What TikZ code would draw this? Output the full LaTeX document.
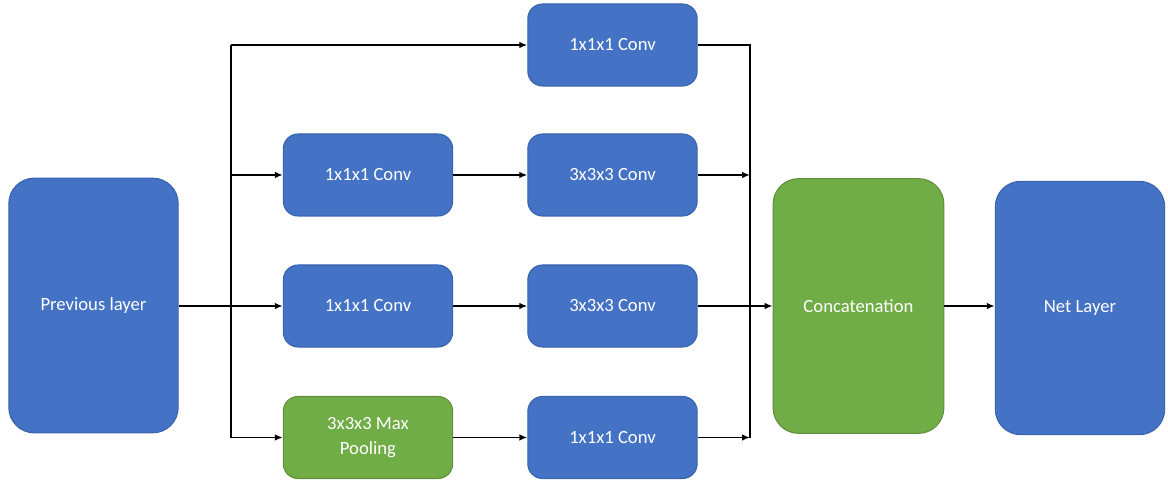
\documentclass[tikz,border=0pt]{standalone}
\usepackage{fontspec}
\setmainfont{Carlito}
\usetikzlibrary{arrows.meta}
\definecolor{boxblue}{HTML}{4472C4}
\definecolor{boxgreen}{HTML}{70AD47}
\definecolor{edgeblue}{HTML}{3A63AD}
\definecolor{edgegreen}{HTML}{5E8F3C}
\tikzset{
  blk/.style={draw=edgeblue, line width=0.8pt, fill=boxblue, rounded corners=11pt,
    minimum width=127pt, minimum height=61.5pt, text=white, font=\fontsize{14}{17}\selectfont, align=center, inner sep=0pt},
  grn/.style={blk, draw=edgegreen, fill=boxgreen},
  big/.style={rounded corners=19pt, minimum width=127pt, minimum height=191pt},
  conn/.style={line width=1.4pt, black},
  arr/.style={conn, -{Latex[length=6pt,width=5pt]}}
}
\begin{document}
\begin{tikzpicture}[x=0.75pt,y=-0.75pt]
\useasboundingbox (0,0) rectangle (1168,481);
\node[blk,big] (prev) at (93.5,305.5) {Previous layer};
\node[blk] (c1) at (612.5,45) {1x1x1 Conv};
\node[blk] (a2) at (368,175) {1x1x1 Conv};
\node[blk] (b2) at (612.5,175) {3x3x3 Conv};
\node[blk] (a3) at (368,306) {1x1x1 Conv};
\node[blk] (b3) at (612.5,306) {3x3x3 Conv};
\node[grn] (a4) at (368,437.5) {3x3x3 Max\\[2pt]Pooling};
\node[blk] (b4) at (612.5,437.5) {1x1x1 Conv};
\node[grn,big,minimum width=128pt] (cat) at (858.5,306) {Concatenation};
\node[blk,big,minimum height=190pt] (net) at (1080,308) {Net Layer};

\coordinate (bl1) at (231,45);
\coordinate (bl2) at (231,175);
\coordinate (bl4) at (231,437.5);
\coordinate (br1) at (750,45);
\coordinate (br2) at (750,175);
\coordinate (br4) at (750,437.5);

\draw[conn] (bl1) -- (bl4);
\draw[arr] (prev.east |- a3) -- (a3.west);
\draw[arr] (bl1) -- (c1.west);
\draw[arr] (bl2) -- (a2.west);
\draw[arr] (bl4) -- (a4.west);
\draw[arr] (a2) -- (b2);
\draw[arr] (a3) -- (b3);
\draw[arr] (a4) -- (b4);
\draw[conn] (c1.east) -- (br1) -- (br4);
\draw[arr] (b2.east) -- (br2);
\draw[arr] (b4.east) -- (br4);
\draw[arr] (b3.east) -- (cat.west);
\draw[arr] (cat.east) -- (cat.east -| net.west);
\end{tikzpicture}
\end{document}
